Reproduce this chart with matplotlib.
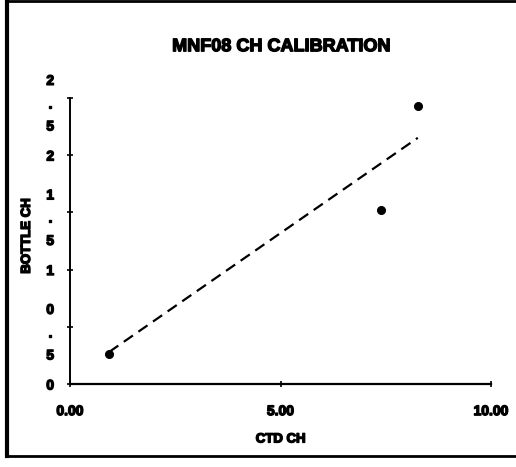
import matplotlib.pyplot as plt
import matplotlib.patheffects as pe
from matplotlib.lines import Line2D

plt.rcParams['font.family'] = ['Liberation Sans', 'DejaVu Sans']

# bottle vs CTD readings
ctd_ch = [0.93, 7.39, 8.26]
bottle_ch = [0.26, 1.52, 2.43]

# dashed calibration trend line (end points)
trend_x = [0.93, 8.26]
trend_y = [0.28, 2.15]

y_ticks = [0, 0.5, 1, 1.5, 2, 2.5]
y_labels = ['0', '0\n.\n5', '1', '1\n.\n5', '2', '2\n.\n5']
x_ticks = [0, 5, 10]
x_labels = ['0.00', '5.00', '10.00']

# fake a black-weight face by stroking the bold glyphs
heavy = [pe.withStroke(linewidth=1.0, foreground='black')]

fig = plt.figure(figsize=(5.16, 4.67), dpi=100)
ax = fig.add_axes([0.1357, 0.1777, 0.816, 0.613])

ax.plot(ctd_ch, bottle_ch, 'o', color='black', markersize=5.5)
ax.plot(trend_x, trend_y, '--', color='black', linewidth=1.6, dashes=(5, 3))

ax.set_xlim(0, 10)
ax.set_ylim(0, 2.5)
ax.spines['top'].set_visible(False)
ax.spines['right'].set_visible(False)
ax.spines['left'].set_linewidth(1.4)
ax.spines['bottom'].set_linewidth(1.6)

ax.set_yticks(y_ticks)
ax.set_yticklabels(y_labels, fontsize=10, fontweight='bold', linespacing=1.8,
                   multialignment='center', path_effects=heavy)
ax.set_xticks(x_ticks)
ax.set_xticklabels(x_labels, fontsize=10, fontweight='bold', path_effects=heavy)
ax.tick_params(axis='y', direction='inout', length=5, width=1.2, pad=9)
ax.tick_params(axis='x', direction='inout', length=5, width=1.2, pad=12)

ax.set_xlabel('CTD CH', fontsize=9.5, fontweight='bold', labelpad=11,
              path_effects=heavy)
ax.set_ylabel('BOTTLE CH', fontsize=9.5, fontweight='bold', path_effects=heavy)
ax.yaxis.set_label_coords(-0.088, 0.517)
fig.text(0.545, 0.9, 'MNF08 CH CALIBRATION', ha='center', va='center',
         fontsize=13, fontweight='bold', path_effects=heavy)

# page frame
fig.add_artist(Line2D([0.014, 0.014], [0.024, 1.0], color='black', linewidth=3,
                      transform=fig.transFigure))
fig.add_artist(Line2D([0.014, 1.0], [0.997, 0.997], color='black', linewidth=2,
                      transform=fig.transFigure))
fig.add_artist(Line2D([0.014, 1.0], [0.024, 0.024], color='black', linewidth=2,
                      transform=fig.transFigure))

fig.savefig('out.png', dpi=100)
